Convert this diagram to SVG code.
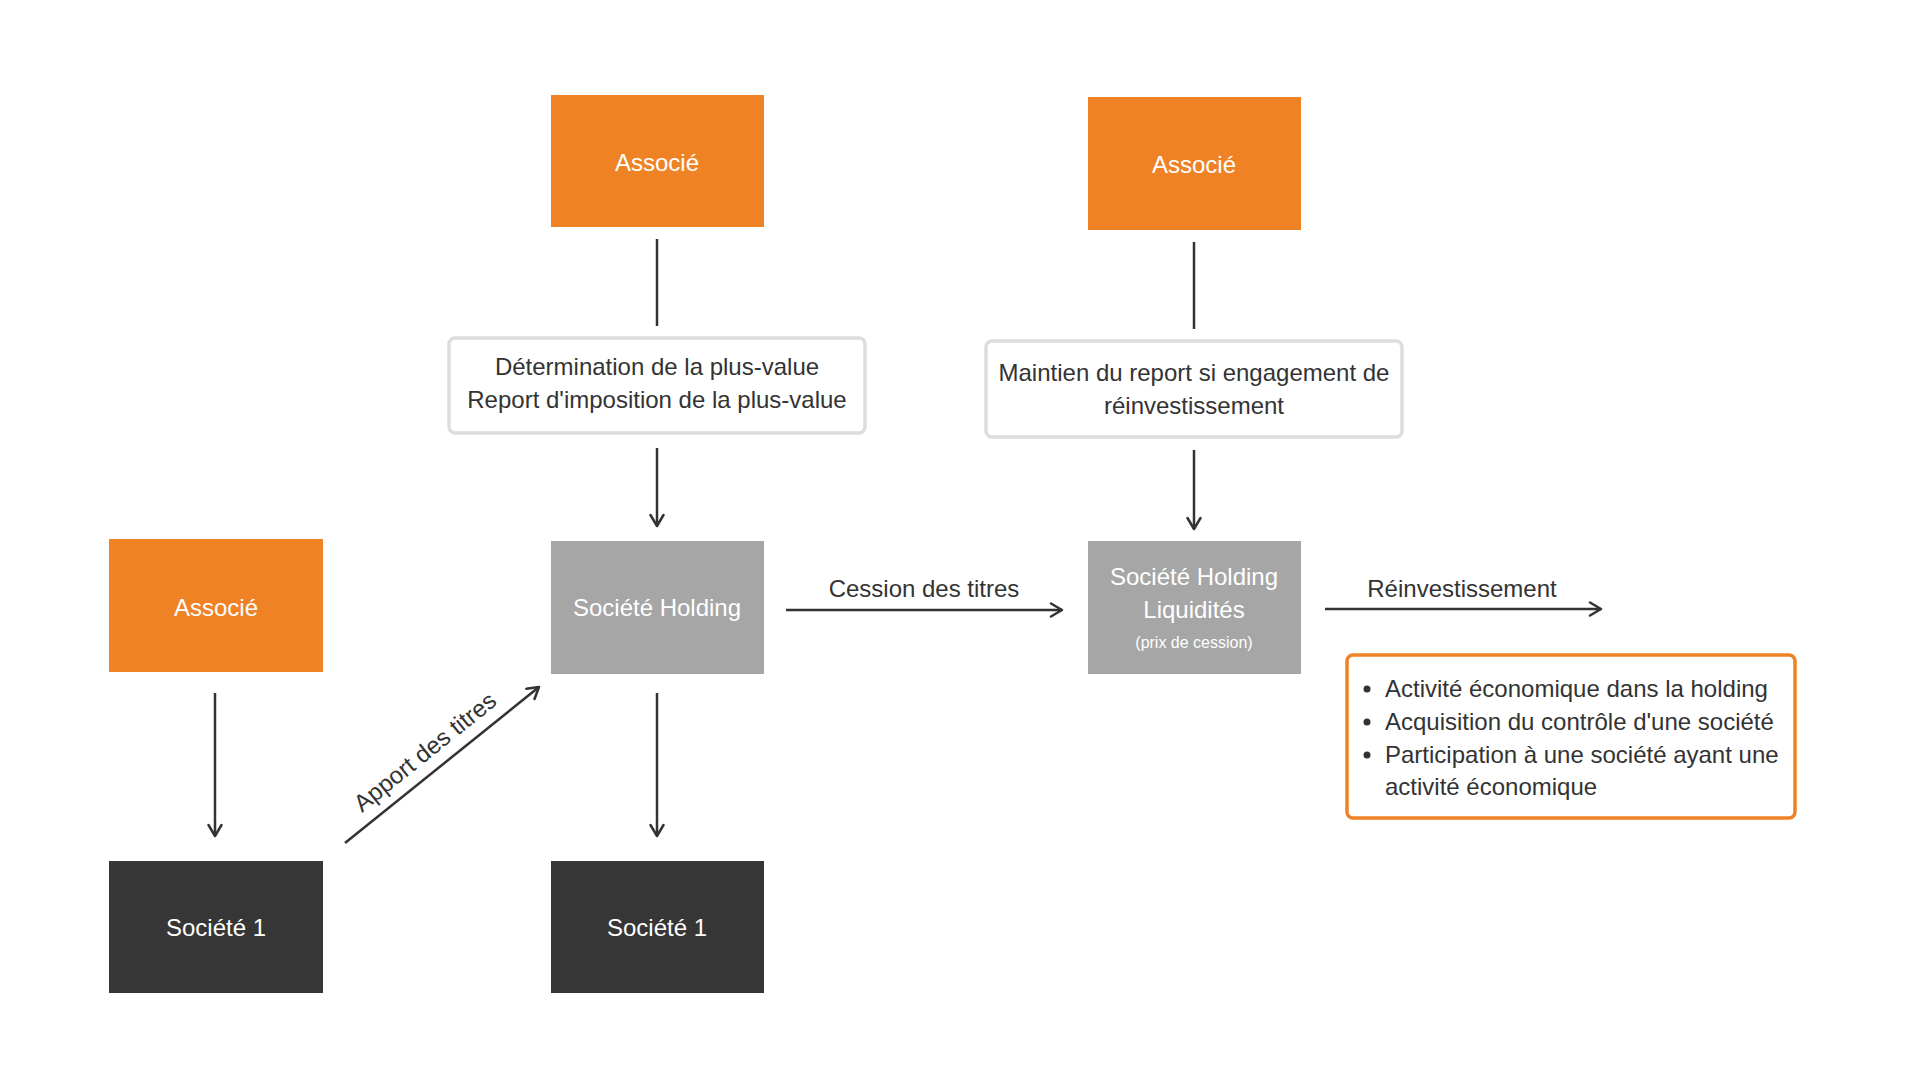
<svg xmlns="http://www.w3.org/2000/svg" width="1920" height="1080" viewBox="0 0 1920 1080">
<defs>
<style>
text{font-family:"Liberation Sans",Arial,sans-serif;font-size:24px}
.org{fill:#F08226}
.gry{fill:#A6A6A6}
.drk{fill:#363636}
.wt{fill:#FFFFFF;text-anchor:middle}
.dk{fill:#333333}
.mid{text-anchor:middle}
.note{fill:#FFFFFF;stroke:#DDDDDD;stroke-width:3.5}
.bul{fill:#FFFFFF;stroke:#F08226;stroke-width:3.5}
.ln{stroke:#333333;stroke-width:2.5;fill:none}
.ar{stroke:#333333;stroke-width:2.5;fill:none;marker-end:url(#ah)}
</style>
<marker id="ah" viewBox="0 0 16 16" refX="13" refY="8" markerWidth="16" markerHeight="16" markerUnits="userSpaceOnUse" orient="auto">
<path d="M2,1.5 L13,8 L2,14.5" fill="none" stroke="#333333" stroke-width="2.5" stroke-linecap="round" stroke-linejoin="round"/>
</marker>
</defs>
<rect width="1920" height="1080" fill="#FFFFFF"/>

<g id="connectors">
<line class="ln" x1="657" y1="239" x2="657" y2="326"/>
<line class="ar" x1="657" y1="448" x2="657" y2="526"/>
<line class="ln" x1="1194" y1="242" x2="1194" y2="329"/>
<line class="ar" x1="1194" y1="450" x2="1194" y2="529"/>
<line class="ar" x1="215" y1="693" x2="215" y2="836"/>
<line class="ar" x1="657" y1="693" x2="657" y2="836"/>
<line class="ar" x1="345" y1="843" x2="539" y2="687"/>
<line class="ar" x1="786" y1="610" x2="1062" y2="610"/>
<line class="ar" x1="1325" y1="609" x2="1601" y2="609"/>
<text class="dk" transform="translate(362,813) rotate(-38.8)">Apport des titres</text>
<text class="dk mid" x="924" y="597">Cession des titres</text>
<text class="dk mid" x="1462" y="597">Réinvestissement</text>
</g>

<g id="associe-top-left">
<rect class="org" x="551" y="95" width="213" height="132"/>
<text class="wt" x="657" y="171">Associé</text>
</g>
<g id="associe-top-right">
<rect class="org" x="1088" y="97" width="213" height="133"/>
<text class="wt" x="1194" y="173">Associé</text>
</g>
<g id="note-left">
<rect class="note" x="449" y="338" width="416" height="95" rx="6"/>
<text class="dk mid" x="657" y="375">Détermination de la plus-value</text>
<text class="dk mid" x="657" y="408">Report d'imposition de la plus-value</text>
</g>
<g id="note-right">
<rect class="note" x="986" y="341" width="416" height="96" rx="6"/>
<text class="dk mid" x="1194" y="381">Maintien du report si engagement de</text>
<text class="dk mid" x="1194" y="414">réinvestissement</text>
</g>
<g id="associe-left">
<rect class="org" x="109" y="539" width="214" height="133"/>
<text class="wt" x="216" y="616">Associé</text>
</g>
<g id="holding">
<rect class="gry" x="551" y="541" width="213" height="133"/>
<text class="wt" x="657" y="616">Société Holding</text>
</g>
<g id="holding-liquidites">
<rect class="gry" x="1088" y="541" width="213" height="133"/>
<text class="wt" x="1194" y="585">Société Holding</text>
<text class="wt" x="1194" y="618">Liquidités</text>
<text class="wt" x="1194" y="648" style="font-size:16px">(prix de cession)</text>
</g>
<g id="societe1-left">
<rect class="drk" x="109" y="861" width="214" height="132"/>
<text class="wt" x="216" y="936">Société 1</text>
</g>
<g id="societe1-right">
<rect class="drk" x="551" y="861" width="213" height="132"/>
<text class="wt" x="657" y="936">Société 1</text>
</g>
<g id="conditions">
<rect class="bul" x="1347" y="655" width="448" height="163" rx="6"/>
<circle cx="1367" cy="689" r="3.5" fill="#333333"/>
<circle cx="1367" cy="722" r="3.5" fill="#333333"/>
<circle cx="1367" cy="755" r="3.5" fill="#333333"/>
<text class="dk" x="1385" y="697">Activité économique dans la holding</text>
<text class="dk" x="1385" y="730">Acquisition du contrôle d'une société</text>
<text class="dk" x="1385" y="763">Participation à une société ayant une</text>
<text class="dk" x="1385" y="795">activité économique</text>
</g>
</svg>
